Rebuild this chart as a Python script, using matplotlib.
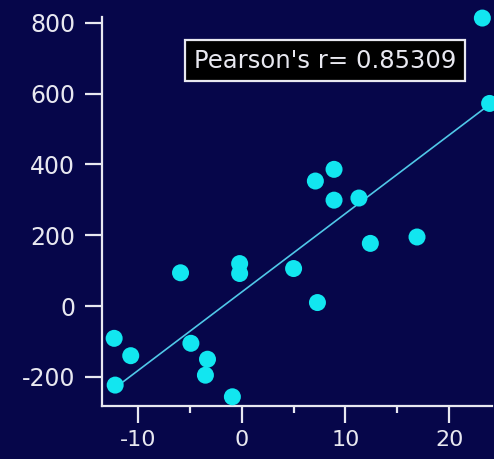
import numpy as np
import matplotlib
matplotlib.use("Agg")
import matplotlib.pyplot as plt
from matplotlib.ticker import MultipleLocator

x_vals = [23.2, 23.9, -12.3, -10.7, -12.2, -5.9, -4.9, -3.3, -3.5, -0.9,
          -0.2, -0.2, 5.0, 7.3, 7.1, 8.9, 8.9, 11.3, 12.4, 16.9]
y_vals = [813, 572, -91, -140, -223, 94, -105, -150, -195, -256,
          120, 92, 106, 10, 353, 386, 299, 305, 177, 195]
x_ticks = [-10, 0, 10, 20]
y_ticks = [-200, 0, 200, 400, 600, 800]
label_text = "Pearson's r= 0.85309"

plt.rcParams['axes.unicode_minus'] = False
plt.rcParams['font.family'] = ['DejaVu Sans']

bg = '#06064a'
fg = '#e8e8f0'
fig = plt.figure(figsize=(4.94, 4.59), dpi=100, facecolor=bg)
ax = fig.add_axes([101.7/494, 1-406/459, 390/494, 389/459], facecolor=bg)

x = np.array(x_vals)
y = np.array(y_vals)
slope, icpt = np.polyfit(x, y, 1)
xl = np.array([x.min(), x.max()])
ax.plot(xl, slope*xl + icpt, color='#50c8e8', lw=1.2, zorder=2, clip_on=False)
ax.scatter(x, y, s=150, color='#12e6f0', edgecolors='none', zorder=3, clip_on=False)

ax.set_xlim(-13.5, 24.1)
ax.set_ylim(-282, 816)
ax.set_xticks(x_ticks)
ax.set_yticks(y_ticks)
ax.xaxis.set_minor_locator(MultipleLocator(5))

for s in ['top', 'right']:
    ax.spines[s].set_visible(False)
for s in ['left', 'bottom']:
    ax.spines[s].set_color(fg)
    ax.spines[s].set_linewidth(1.6)

ax.tick_params(axis='x', which='major', direction='out', length=12, width=1.6,
               color=fg, labelcolor=fg, labelsize=16, pad=5)
ax.tick_params(axis='x', which='minor', direction='out', length=5, width=1.6, color=fg)
ax.tick_params(axis='y', which='major', direction='out', length=12, width=1.6,
               color=fg, labelcolor=fg, labelsize=17, pad=7)

ax.text(0.572, 0.888, label_text, transform=ax.transAxes, ha='center', va='center',
        color=fg, fontsize=17.5,
        bbox=dict(boxstyle='square,pad=0.36', facecolor='black', edgecolor=fg, linewidth=1.6))

fig.savefig('out.png', dpi=100, facecolor=bg)
